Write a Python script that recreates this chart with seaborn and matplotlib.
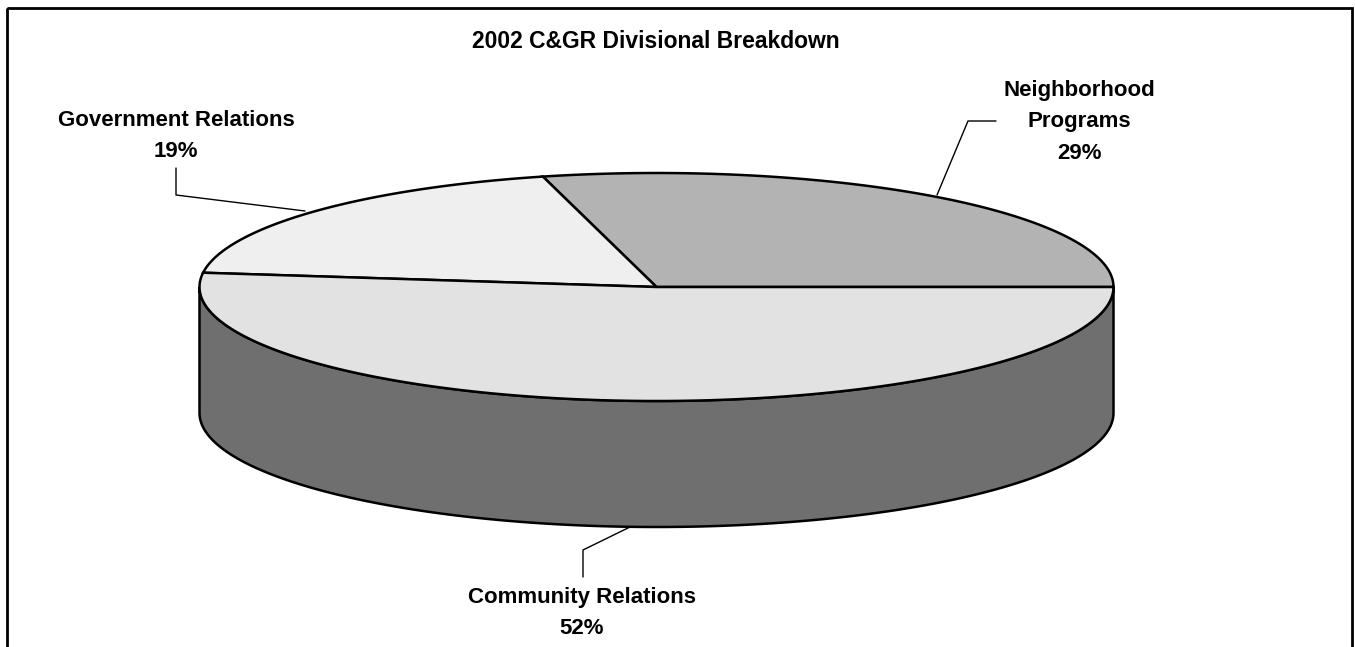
import numpy as np
import matplotlib
matplotlib.use("Agg")
import matplotlib.pyplot as plt
import seaborn as sns
from matplotlib.patches import Polygon, Rectangle

# data
categories = ["Neighborhood\nPrograms", "Government Relations", "Community Relations"]
shares = [29, 19, 52]
top_colors = ["#b3b3b3", "#efefef", "#e2e2e2"]
side_colors = ["#8a8a8a", "#bdbdbd", "#6f6f6f"]

sns.set_style("white")
plt.rcParams["font.family"] = ["Liberation Sans", "DejaVu Sans"]
plt.rcParams["text.color"] = "black"

fig = plt.figure(figsize=(13.55, 6.47), dpi=100)
ax = fig.add_axes([0, 0, 1, 1])
ax.set_xlim(0, 1355)
ax.set_ylim(647, 0)
ax.axis("off")

# pie geometry (pixel space)
cx, cy = 656.5, 287
a, b = 457, 114
depth = 126


def edge(t):
    t = np.radians(t)
    return cx + a * np.cos(t), cy - b * np.sin(t)


bounds = np.concatenate([[0], np.cumsum(shares) / np.sum(shares) * 360])

# side walls (only front half visible)
for i in range(len(shares)):
    t0, t1 = max(bounds[i], 180), min(bounds[i + 1], 360)
    if t1 <= t0:
        continue
    t = np.linspace(t0, t1, 200)
    x, y = edge(t)
    pts = np.column_stack([np.r_[x, x[::-1]], np.r_[y, (y + depth)[::-1]]])
    ax.add_patch(Polygon(pts, closed=True, facecolor=side_colors[i],
                         edgecolor="black", linewidth=1.8, zorder=1))

# top faces
for i in range(len(shares)):
    t = np.linspace(bounds[i], bounds[i + 1], 300)
    x, y = edge(t)
    pts = np.column_stack([np.r_[cx, x], np.r_[cy, y]])
    ax.add_patch(Polygon(pts, closed=True, facecolor=top_colors[i],
                         edgecolor="black", linewidth=1.8, zorder=2))

# labels with leader lines
label_style = dict(ha="center", va="center", fontsize=16, fontweight="bold",
                   linespacing=1.68, color="black", zorder=5)
label_pos = [(1079, 122), (176, 136), (582, 613)]
leaders = [
    [(996, 121), (968, 121), (937, 195)],
    [(176, 168), (176, 195), (305, 211)],
    [(630, 527), (583, 550), (583, 577)],
]
for i, cat in enumerate(categories):
    ax.text(*label_pos[i], f"{cat}\n{shares[i]}%", **label_style)
    lx, ly = zip(*leaders[i])
    ax.plot(lx, ly, color="black", linewidth=1.0, zorder=4)

ax.text(656, 41, "2002 C&GR Divisional Breakdown", ha="center", va="center",
        fontsize=16.5, fontweight="bold", color="black")

# chart frame
ax.add_patch(Rectangle((7, 8), 1345, 660, fill=False, edgecolor="black",
                       linewidth=2, zorder=6, clip_on=False))

fig.savefig("out.png", dpi=100)
